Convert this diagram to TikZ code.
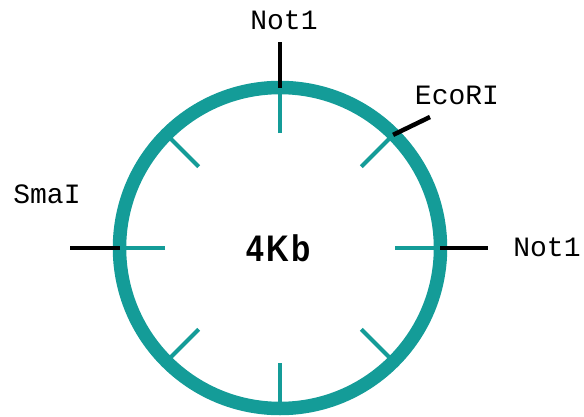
\documentclass[tikz,border=0pt]{standalone}
\usepackage{fontspec}
\usepackage{tikz}
\usepackage{xcolor}
\usetikzlibrary{positioning}
\newfontfamily\sitefont{Liberation Mono}
\newfontfamily\sizefont[LetterSpace=8]{Liberation Sans}
\definecolor{plasmid}{RGB}{20,156,152}

\begin{document}
\begin{tikzpicture}[x=1pt,y=1pt,
  ring/.style={draw=plasmid,line width=13.5pt},
  tick/.style={draw=plasmid,line width=4pt},
  site/.style={draw=black,line width=4.5pt},
  lbl/.style={font=\sitefont\fontsize{28}{30}\selectfont,inner sep=0pt},
  size/.style={font=\sizefont\bfseries\fontsize{37}{40}\selectfont,inner sep=0pt,xscale=0.85}]
  \useasboundingbox (0,0) rectangle (584,416);
  \coordinate (c) at (280,168);
  \draw[ring] (c) circle (160.5);
  \foreach \a in {0,45,...,315}
    \draw[tick] ([shift={(\a:115)}]c) -- ([shift={(\a:160)}]c);
  \node(kb) [size] at (279,168) {4Kb};
  % cut sites
  \coordinate (r1) at ([shift={(90:160)}]c);
  \coordinate (e1) at ([shift={(90:206)}]c);
  \coordinate (r2) at ([shift={(45:160)}]c);
  \coordinate (e2) at (430,299);
  \coordinate (r3) at ([shift={(180:160)}]c);
  \coordinate (e3) at ([shift={(180:210)}]c);
  \coordinate (r4) at ([shift={(0:160)}]c);
  \coordinate (e4) at ([shift={(0:208)}]c);
  \draw[site] (r1) -- (e1);
  \draw[site] (r2) -- (e2);
  \draw[site] (r3) -- (e3);
  \draw[site] (r4) -- (e4);
  \node(not1a) [lbl] at (284,396) {Not1};
  \node(ecori) [lbl] at (457,321) {EcoRI};
  \node(smai) [lbl] at (47,222) {SmaI};
  \node(not1b) [lbl] at (547,169) {Not1};
\end{tikzpicture}
\end{document}
